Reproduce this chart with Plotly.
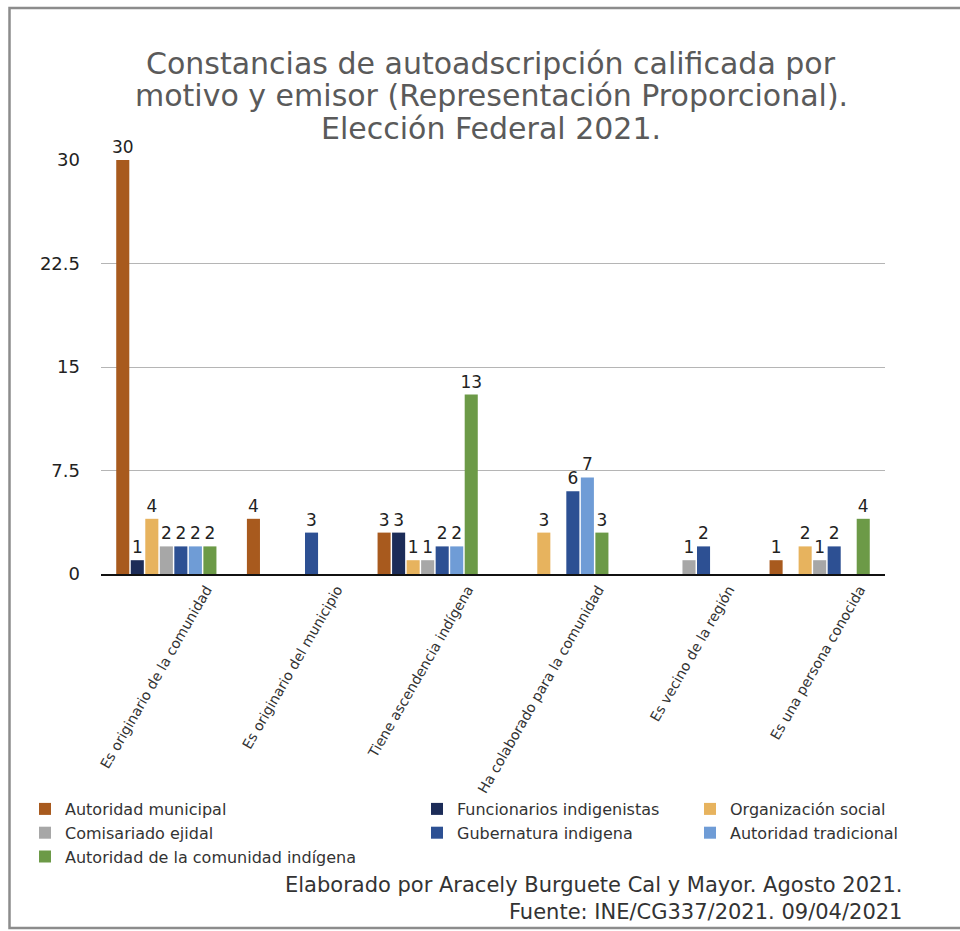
import plotly.graph_objects as go

# Motives (categories on the x axis)
categories = [
    "Es originario de la comunidad",
    "Es originario del municipio",
    "Tiene ascendencia indígena",
    "Ha colaborado para la comunidad",
    "Es vecino de la región",
    "Es una persona conocida",
]

# Issuers, in bar order within each group
series_names = [
    "Autoridad municipal",
    "Funcionarios indigenistas",
    "Organización social",
    "Comisariado ejidal",
    "Gubernatura indigena",
    "Autoridad tradicional",
    "Autoridad de la comunidad indígena",
]

autoridad_municipal = [30, 4, 3, 0, 0, 1]
funcionarios_indigenistas = [1, 0, 3, 0, 0, 0]
organizacion_social = [4, 0, 1, 3, 0, 2]
comisariado_ejidal = [2, 0, 1, 0, 1, 1]
gubernatura_indigena = [2, 3, 2, 6, 2, 2]
autoridad_tradicional = [2, 0, 2, 7, 0, 0]
autoridad_comunidad = [2, 0, 13, 3, 0, 4]

series_values = [
    autoridad_municipal,
    funcionarios_indigenistas,
    organizacion_social,
    comisariado_ejidal,
    gubernatura_indigena,
    autoridad_tradicional,
    autoridad_comunidad,
]

series_colors = [
    "#A85A1E",
    "#1C2C58",
    "#E7B35E",
    "#A7A7A7",
    "#2D5093",
    "#6F9CD6",
    "#6C9A47",
]

# which of the three legend columns each series goes to
legend_column = ["legend", "legend2", "legend3", "legend", "legend2", "legend3", "legend"]

y_tickvals = [0, 7.5, 15, 22.5, 30]
y_ticktext = ["0", "7.5", "15", "22.5", "30"]

title_lines = [
    "Constancias de autoadscripción calificada por",
    "motivo y emisor (Representación Proporcional).",
    "Elección Federal 2021.",
]
footer_lines = [
    "Elaborado por Aracely Burguete Cal y Mayor. Agosto 2021.",
    "Fuente: INE/CG337/2021. 09/04/2021",
]

FONT = "DejaVu Sans"
W, H = 960, 931
ML, MR, MT, MB = 101, 75, 160, 357
PW, PH = W - ML - MR, H - MT - MB


def px_x(px):
    return (px - ML) / PW


def px_y(py):
    return (H - MB - py) / PH


fig = go.Figure()
for name, vals, color, leg in zip(series_names, series_values, series_colors, legend_column):
    fig.add_trace(
        go.Bar(
            name=name,
            x=categories,
            y=vals,
            marker=dict(color=color, line=dict(width=0)),
            text=[str(v) if v else "" for v in vals],
            textposition="outside",
            textfont=dict(family=FONT, size=17, color="#222222"),
            constraintext="none",
            cliponaxis=False,
            legend=leg,
        )
    )

annotations = []
title_y = [63, 96, 128]
for line, py in zip(title_lines, title_y):
    annotations.append(
        dict(
            text=line, xref="paper", yref="paper", x=px_x(491), y=px_y(py),
            xanchor="center", yanchor="middle", showarrow=False,
            font=dict(family=FONT, size=30, color="#5A5A5A"),
        )
    )
# credit and source, right-aligned as one two-line block
annotations.append(
    dict(
        text="<br>".join(footer_lines), xref="paper", yref="paper",
        x=px_x(904), y=px_y(898), xanchor="right", yanchor="middle", align="right",
        showarrow=False, font=dict(family=FONT, size=21, color="#333333"),
    )
)

legend_style = dict(
    orientation="v", xanchor="left", yanchor="top", bgcolor="rgba(0,0,0,0)",
    font=dict(family=FONT, size=16, color="#333333"), tracegroupgap=0,
)

fig.update_layout(
    width=W,
    height=H,
    margin=dict(l=ML, r=MR, t=MT, b=MB, autoexpand=False),
    paper_bgcolor="white",
    plot_bgcolor="white",
    barmode="group",
    bargap=0.222,
    bargroupgap=0.1,
    showlegend=True,
    legend=dict(x=px_x(25), y=px_y(792), **legend_style),
    legend2=dict(x=px_x(417), y=px_y(792), **legend_style),
    legend3=dict(x=px_x(690), y=px_y(792), **legend_style),
    annotations=annotations,
    shapes=[
        dict(
            type="rect", xref="paper", yref="paper",
            x0=px_x(9.5), x1=px_x(968), y0=px_y(928), y1=px_y(8),
            line=dict(color="#8C8C8C", width=2.5), fillcolor="rgba(0,0,0,0)",
        )
    ],
)

fig.update_xaxes(
    type="category",
    tickangle=-60,
    tickfont=dict(family=FONT, size=14, color="#333333"),
    ticklabelshift=40,
    showline=True,
    linecolor="#111111",
    linewidth=2,
    showgrid=False,
    ticks="",
)
fig.update_yaxes(
    range=[0, 30],
    tickvals=y_tickvals,
    ticktext=y_ticktext,
    tickfont=dict(family=FONT, size=18, color="#222222"),
    showgrid=True,
    gridcolor="#B5B5B5",
    gridwidth=1,
    zeroline=False,
    showline=False,
    ticks="",
    ticklabelstandoff=20,
)

fig.write_html("out.html")
